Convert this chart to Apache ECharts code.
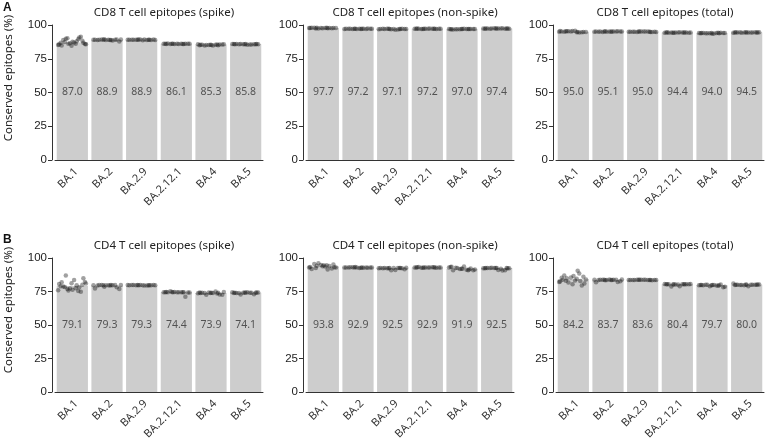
<!DOCTYPE html>
<html><head><meta charset="utf-8">
<script src="https://cdn.jsdelivr.net/npm/echarts@6/dist/echarts.min.js"></script>
<style>html,body{margin:0;padding:0;background:#fff}#c{width:770px;height:442px}</style>
</head><body><div id="c"></div>
<script>
const categories = ['BA.1','BA.2','BA.2.9','BA.2.12.1','BA.4','BA.5'];
const yTicks = [0,25,50,75,100];
const panelTitles = ['CD8 T cell epitopes (spike)','CD8 T cell epitopes (non-spike)','CD8 T cell epitopes (total)',
  'CD4 T cell epitopes (spike)','CD4 T cell epitopes (non-spike)','CD4 T cell epitopes (total)'];

const cd8SpikeMeans = [87.0,88.9,88.9,86.1,85.3,85.8];
const cd8NonSpikeMeans = [97.7,97.2,97.1,97.2,97.0,97.4];
const cd8TotalMeans = [95.0,95.1,95.0,94.4,94.0,94.5];
const cd4SpikeMeans = [79.1,79.3,79.3,74.4,73.9,74.1];
const cd4NonSpikeMeans = [93.8,92.9,92.5,92.9,91.9,92.5];
const cd4TotalMeans = [84.2,83.7,83.6,80.4,79.7,80.0];

const cd8SpikePoints = [
  [85.2,86.1,87.5,88.3,84.6,86.8,89.4,90.2,85.9,87.1,88.8,91.3,86.4,85.5,88.0,89.9,86.9,87.6,84.9,90.8,86.2,85.8],
  [89.0,89.2,88.8,89.1,89.3,88.9,89.0,88.6,89.2,87.8,89.1,88.9,89.0,89.4,89.1,88.9],
  [89.0,89.1,88.9,89.2,89.0,88.8,89.3,89.1,88.9,89.0,89.2,88.7,89.1,89.0,89.2,89.1],
  [86.1,86.0,86.2,86.1,85.9,86.3,86.1,86.0,86.2,86.1,86.0,86.2,86.1,85.9,86.0,86.2],
  [85.3,85.0,85.6,85.2,85.8,84.9,85.4,85.5,85.1,85.7,85.3,84.8,85.6,85.2,85.4,85.0],
  [85.8,85.7,86.0,85.6,85.9,85.8,85.3,86.0,85.8,85.7,85.9,85.5,85.8,86.0,85.9,85.7]];
const cd8NonSpikePoints = [
  [97.7,97.9,97.5,97.8,97.6,98.0,97.7,97.4,97.8,97.7,97.9,97.6,97.7,97.8,97.6,97.9],
  [97.2,97.3,97.1,97.2,97.4,97.0,97.2,97.3,97.1,97.2,97.3,97.2,97.0,97.2,97.1,97.3],
  [97.1,97.2,97.0,96.4,97.1,97.3,96.9,97.1,96.6,97.2,97.0,97.1,97.2,97.0,97.1,96.9],
  [97.2,97.3,97.1,97.2,97.4,97.2,97.1,97.3,97.2,97.2,97.1,97.3,97.2,97.4,97.2,97.3],
  [97.0,96.8,97.1,96.9,97.0,97.2,96.7,97.0,96.9,97.1,97.0,96.8,97.0,97.1,96.9,97.0],
  [97.4,97.5,97.3,97.6,97.4,97.2,97.5,97.4,97.3,97.6,97.4,97.5,97.3,97.4,97.5,97.4]];
const cd8TotalPoints = [
  [95.0,94.6,95.4,94.8,95.6,95.1,94.5,95.3,94.9,95.8,95.0,94.7,95.2,95.5,94.8,95.3],
  [95.1,95.2,95.0,95.1,95.3,95.0,95.1,95.2,94.9,95.1,95.2,95.0,95.1,95.3,95.0,95.1],
  [95.0,95.1,94.9,95.2,95.0,94.8,95.1,95.0,95.2,94.9,95.0,95.1,95.0,94.9,95.1,95.0],
  [94.4,94.5,94.3,94.4,94.6,94.2,94.4,94.5,94.3,94.4,94.5,94.3,94.4,94.6,94.4,94.3],
  [94.0,93.8,94.2,93.9,94.1,93.7,94.0,94.3,93.8,94.0,94.1,93.9,94.0,93.6,94.1,93.9],
  [94.5,94.6,94.4,94.5,94.3,94.7,94.5,94.4,94.6,94.5,94.3,94.5,94.6,94.4,94.5,94.6]];
const cd4SpikePoints = [
  [76.0,77.5,78.3,80.1,81.2,79.0,75.4,76.8,82.0,83.5,78.8,74.9,77.2,80.6,79.7,86.9,84.8,76.4,81.9,78.1,75.8,80.9],
  [79.6,79.8,79.5,79.9,78.2,79.7,77.3,79.6,79.8,76.8,79.7,79.5,79.9,78.6,79.6,79.8],
  [79.6,79.8,79.7,79.5,79.9,79.6,79.8,79.7,79.5,79.6,79.8,79.7,79.9,79.6,79.7,79.8],
  [74.5,74.4,74.6,74.3,74.5,74.4,71.0,74.6,74.5,74.4,75.2,74.3,74.5,74.6,74.4,74.5],
  [73.9,74.2,73.5,72.5,74.6,73.8,74.0,72.8,74.3,73.7,75.0,73.9,72.6,74.1,73.8,74.0],
  [74.1,74.3,73.8,74.0,72.7,74.2,74.4,73.9,72.9,74.1,74.5,74.0,73.8,74.2,74.1,74.0]];
const cd4NonSpikePoints = [
  [93.0,94.5,92.5,95.2,93.8,91.8,94.0,96.0,92.9,93.6,95.5,92.2,94.8,93.3,91.5,94.2,93.1,94.6],
  [92.9,93.0,92.8,93.1,92.7,92.9,93.0,92.8,93.1,92.9,92.6,93.0,92.9,93.2,92.9,93.0],
  [92.5,92.3,92.7,91.0,92.5,92.4,90.8,92.6,92.5,92.3,91.6,92.6,92.4,92.5,92.6,92.4],
  [92.9,93.1,92.8,93.0,92.9,93.2,92.8,93.0,92.9,93.1,92.7,93.0,92.9,93.1,93.0,92.9],
  [91.9,93.3,90.8,92.5,91.5,93.6,90.9,92.2,91.7,93.0,91.2,92.8,90.9,92.0,93.4,91.4],
  [92.5,92.6,92.3,90.6,92.7,92.4,91.0,92.5,90.8,92.6,92.3,91.9,92.5,92.4,92.6,92.5]];
const cd4TotalPoints = [
  [82.0,84.5,83.0,86.0,80.5,85.2,88.5,81.8,84.0,83.3,87.0,79.5,85.5,82.5,90.5,84.8,81.0,86.6,83.8,82.9],
  [83.7,83.9,83.5,83.8,82.0,83.6,81.9,83.8,83.7,82.6,83.9,83.5,83.7,83.4,83.8,83.6],
  [83.6,83.7,83.5,83.8,83.6,83.4,83.7,83.6,83.5,83.8,83.6,83.7,83.5,83.6,83.7,83.6],
  [80.4,80.5,80.3,80.6,79.0,80.4,80.5,80.2,80.6,80.4,78.8,80.5,80.3,80.4,80.5,80.4],
  [79.7,79.9,79.3,80.1,78.5,79.8,79.6,80.2,78.9,79.7,79.5,80.0,78.2,79.8,79.9,79.6],
  [80.0,80.2,79.8,80.1,79.9,80.3,79.0,80.0,80.1,79.7,81.0,80.0,79.9,80.2,80.1,80.0]];

const labelLevel = 50;
const allMeans = [cd8SpikeMeans,cd8NonSpikeMeans,cd8TotalMeans,cd4SpikeMeans,cd4NonSpikeMeans,cd4TotalMeans];
const allPoints = [cd8SpikePoints,cd8NonSpikePoints,cd8TotalPoints,cd4SpikePoints,cd4NonSpikePoints,cd4TotalPoints];

const lefts = [55, 306, 556];
const tops = [25, 258];
const gw = 208, gh = 135;
const titleFont = 'Noto Sans';
const grids = [], xAxes = [], yAxes = [], series = [], titles = [];
for (let p = 0; p < 6; p++) {
  const col = p % 3, row = Math.floor(p / 3);
  grids.push({left: lefts[col], top: tops[row], width: gw, height: gh});
  titles.push({text: panelTitles[p], left: lefts[col] + gw / 2, top: tops[row] - 23, textAlign: 'center',
    textStyle: {fontFamily: titleFont, fontSize: 11.5, fontWeight: 'normal', color: '#222'}});
  xAxes.push({type: 'category', gridIndex: p, data: categories,
    axisLine: {onZero: false, lineStyle: {color: '#333', width: 1}}, axisTick: {alignWithLabel: true, length: 4, lineStyle: {color: '#333'}},
    axisLabel: {rotate: 45, fontFamily: titleFont, fontSize: 11, color: '#333', margin: 6, interval: 0, verticalAlign: 'top'}});
  xAxes.push({type: 'value', gridIndex: p, min: -0.5, max: 5.5, show: false});
  yAxes.push({type: 'value', gridIndex: p, min: 0, max: 100, interval: 25, offset: 3,
    axisLine: {show: true, onZero: false, lineStyle: {color: '#333'}}, axisTick: {show: true, length: 4, lineStyle: {color: '#333'}},
    splitLine: {show: false},
    axisLabel: {fontFamily: 'Liberation Sans', fontSize: 11.5, color: '#222', margin: 5,
      customValues: yTicks}});
  series.push({type: 'bar', xAxisIndex: 2 * p, yAxisIndex: p, data: allMeans[p], barWidth: '90%',
    itemStyle: {color: '#cdcdcd'}, silent: true});
  const pts = [];
  allPoints[p].forEach((arr, i) => {
    arr.forEach((v, k) => {
      const off = (((k * 0.6180339 + i * 0.37) % 1) - 0.5) * 0.82;
      pts.push([i + off, v]);
    });
  });
  series.push({type: 'scatter', xAxisIndex: 2 * p + 1, yAxisIndex: p, data: pts, symbolSize: 4.5,
    itemStyle: {color: 'rgba(20,20,20,0.5)'}, silent: true});
  series.push({type: 'scatter', xAxisIndex: 2 * p, yAxisIndex: p, symbolSize: 0,
    data: allMeans[p].map((m, i) => ({value: [i, labelLevel], name: m.toFixed(1)})),
    label: {show: true, position: 'inside', formatter: d => d.name, fontFamily: titleFont, fontSize: 10.5, color: '#333'},
    silent: true});
}
const chart = echarts.init(document.getElementById('c'), null, {renderer: 'canvas'});
chart.setOption({
  animation: false,
  title: titles,
  grid: grids, xAxis: xAxes, yAxis: yAxes, series: series,
  graphic: [
    {type: 'text', left: 3, top: 2, style: {text: 'A', font: 'bold 12px Liberation Sans', fill: '#111'}},
    {type: 'text', left: 3, top: 234, style: {text: 'B', font: 'bold 12px Liberation Sans', fill: '#111'}},
    {type: 'text', x: 9, y: 78, rotation: Math.PI / 2, style: {text: 'Conserved epitopes (%)', font: '11.5px Noto Sans', fill: '#222', align: 'center', verticalAlign: 'middle'}},
    {type: 'text', x: 9, y: 310, rotation: Math.PI / 2, style: {text: 'Conserved epitopes (%)', font: '11.5px Noto Sans', fill: '#222', align: 'center', verticalAlign: 'middle'}}
  ]
});
</script></body></html>
